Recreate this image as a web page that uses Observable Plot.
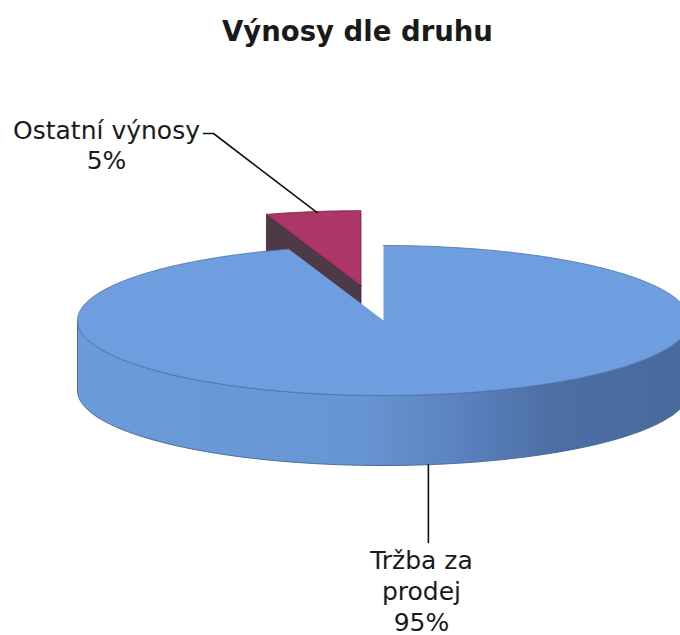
<!DOCTYPE html>
<html>
<head>
<meta charset="utf-8">
<script src="https://cdn.jsdelivr.net/npm/d3@7"></script>
<script src="https://cdn.jsdelivr.net/npm/@observablehq/plot@0.6"></script>
<style>
  html, body { margin: 0; padding: 0; background: #fff; }
  #chart svg { display: block; }
</style>
</head>
<body>
<div id="chart"></div>
<script>
// ---- data ----
const categories = ["Tržba za prodej", "Ostatní výnosy"];
const values = [95, 5];
const percentLabels = ["95%", "5%"];
const colorsTop = ["#6f9ee0", "#ad3669"];
const title = "Výnosy dle druhu";

// ---- layout constants ----
const W = 680, H = 635;
const cx = 383, cy = 320, rx = 306, ry = 75, depth = 70;
const explode = [0, 0.47];

const pie = d3.pie().sort(null).startAngle(0).endAngle(2 * Math.PI)(values);

function pt(a, r, off) {
  return {x: cx + off.x + rx * r * Math.sin(a), y: cy + off.y - ry * r * Math.cos(a)};
}
function arcPts(a0, a1, off, dy = 0) {
  const n = Math.max(2, Math.ceil(Math.abs(a1 - a0) / 0.01));
  const out = [];
  for (let i = 0; i <= n; i++) {
    const a = a0 + (a1 - a0) * i / n;
    const p = pt(a, 1, off);
    out.push({x: p.x, y: p.y + dy});
  }
  return out;
}

const slices = pie.map((p, i) => {
  const mid = (p.startAngle + p.endAngle) / 2;
  const e = explode[i];
  const off = {x: rx * e * Math.sin(mid), y: -ry * e * Math.cos(mid)};
  return {p, i, mid, off};
});

const blue = slices[0], red = slices[1];

// red slice: left cut face (at its start angle) and top face
const rA = {x: cx + red.off.x, y: cy + red.off.y};
const rL = pt(red.p.startAngle, 1, red.off);
const redCut = [rA, rL, {x: rL.x, y: rL.y + depth}, {x: rA.x, y: rA.y + depth}, rA];
const redTop = [rA, ...arcPts(red.p.startAngle, red.p.endAngle, red.off), rA];

// blue slice: front outer wall and top face
const bA = {x: cx + blue.off.x, y: cy + blue.off.y};
const wallTop = arcPts(Math.PI / 2, 3 * Math.PI / 2, blue.off);
const wallBot = arcPts(3 * Math.PI / 2, Math.PI / 2, blue.off, depth);
const blueWall = [...wallTop, ...wallBot, wallTop[0]];
const blueTop = [bA, ...arcPts(blue.p.startAngle, blue.p.endAngle, blue.off), bA];
const blueRim = arcPts(blue.p.startAngle, blue.p.endAngle, blue.off);

// leader lines computed from slice geometry
const redMid = pt(red.mid, 1, red.off);
const leaderRed = [{x: 203, y: 133}, {x: 213, y: 133}, {x: redMid.x + 4, y: redMid.y + 1}];
const blueMid = pt(blue.mid, 1, blue.off);
const leaderBlue = [{x: blueMid.x - 3, y: blueMid.y + depth}, {x: blueMid.x - 3, y: 542}];

const labels = [
  {x: 106, y: 138, text: categories[1]},
  {x: 106, y: 168, text: percentLabels[1]},
  {x: 421, y: 568, text: "Tržba za"},
  {x: 421, y: 599, text: "prodej"},
  {x: 421, y: 630, text: percentLabels[0]}
];

const chart = Plot.plot({
  width: W,
  height: H,
  margin: 0,
  x: {type: "linear", domain: [0, W], range: [0, W], axis: null},
  y: {type: "linear", domain: [0, H], range: [0, H], axis: null},
  style: {background: "#fff"},
  marks: [
    Plot.line(redCut, {x: "x", y: "y", fill: "#4e3a46", stroke: "#3a2a34", strokeWidth: 0.8, curve: "linear"}),
    Plot.line(redTop, {x: "x", y: "y", fill: colorsTop[1], stroke: "#6e2244", strokeWidth: 0.8}),
    Plot.line(blueWall, {x: "x", y: "y", fill: "url(#wallGrad)", stroke: "#4a6a9a", strokeWidth: 1}),
    Plot.line(blueTop, {x: "x", y: "y", fill: colorsTop[0], stroke: "none"}),
    Plot.line(blueRim, {x: "x", y: "y", stroke: "#5577aa", strokeWidth: 0.9}),
    Plot.line(leaderRed, {x: "x", y: "y", stroke: "#111", strokeWidth: 1.6}),
    Plot.line(leaderBlue, {x: "x", y: "y", stroke: "#111", strokeWidth: 1.6}),
    Plot.text(labels, {x: "x", y: "y", text: "text", fontSize: 25, fill: "#1a1a1a", textAnchor: "middle", lineAnchor: "bottom", fontFamily: "DejaVu Sans"}),
    Plot.text([title], {x: () => 357, y: () => 40, text: d => d, fontSize: 27.5, fontWeight: "bold", fill: "#1a1a1a", textAnchor: "middle", lineAnchor: "bottom", fontFamily: "DejaVu Sans"})
  ]
});

// gradient for the side wall
const ns = "http://www.w3.org/2000/svg";
const defs = document.createElementNS(ns, "defs");
const grad = document.createElementNS(ns, "linearGradient");
grad.setAttribute("id", "wallGrad");
grad.setAttribute("gradientUnits", "userSpaceOnUse");
grad.setAttribute("x1", cx - rx); grad.setAttribute("x2", cx + rx);
grad.setAttribute("y1", 0); grad.setAttribute("y2", 0);
[[0, "#6b9bda"], [0.45, "#6896d4"], [0.62, "#5b83c0"], [0.78, "#4c6ea3"], [1, "#4a6a9c"]].forEach(([o, c]) => {
  const s = document.createElementNS(ns, "stop");
  s.setAttribute("offset", o); s.setAttribute("stop-color", c);
  grad.appendChild(s);
});
defs.appendChild(grad);
chart.insertBefore(defs, chart.firstChild);

document.getElementById("chart").appendChild(chart);
</script>
</body>
</html>
